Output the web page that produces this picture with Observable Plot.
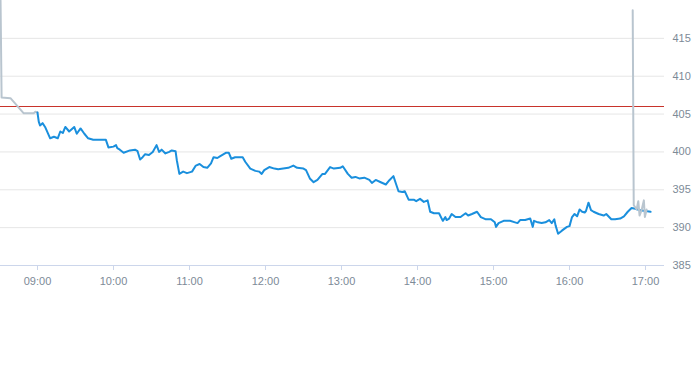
<!DOCTYPE html>
<html>
<head>
<meta charset="utf-8">
<script src="https://cdn.jsdelivr.net/npm/d3@7"></script>
<script src="https://cdn.jsdelivr.net/npm/@observablehq/plot@0.6"></script>
<style>
  html, body { margin: 0; padding: 0; background: #fff; }
  #chart svg { display: block; }
</style>
</head>
<body>
<div id="chart"></div>
<script>
// ---- data ----
const regularTimes = ["09:00","09:01","09:02","09:04","09:06","09:10","09:13","09:16","09:18","09:20","09:22","09:25","09:29","09:31","09:34","09:37","09:40","09:44","09:50","09:54","09:56",
"10:00","10:02","10:03","10:05","10:08","10:13","10:17","10:19","10:21","10:23","10:25","10:28","10:31","10:34","10:36","10:38","10:41","10:44","10:46","10:49","10:50","10:52","10:55","10:58",
"11:02","11:05","11:08","11:11","11:14","11:17","11:19","11:22","11:24","11:27","11:29","11:31","11:33","11:36","11:42","11:44","11:48","11:52","11:55","11:57","11:59",
"12:03","12:07","12:10","12:14","12:18","12:22","12:25","12:30","12:32","12:35","12:38","12:41","12:45","12:47","12:51","12:54","12:59",
"13:01","13:05","13:08","13:11","13:14","13:18","13:22","13:24","13:27","13:31","13:35","13:38","13:41","13:43","13:45","13:48","13:50","13:53","13:57","13:59",
"14:02","14:05","14:08","14:10","14:13","14:17","14:20","14:22","14:23","14:25","14:27","14:30","14:34","14:38","14:40","14:43","14:47","14:50","14:54","14:58",
"15:01","15:02","15:04","15:08","15:13","15:17","15:19","15:21","15:25","15:29","15:31","15:32","15:35","15:38","15:41","15:44","15:46","15:48","15:49","15:51","15:54","15:58",
"16:00","16:02","16:04","16:06","16:08","16:10","16:12","16:13","16:15","16:17","16:19","16:23","16:27","16:29","16:33","16:36","16:40","16:43","16:46","16:49","16:52","16:56",
"17:00","17:04"];
const regularPrices = [405.2,404.0,403.5,403.8,403.3,401.8,402.0,401.8,402.7,402.5,403.3,402.7,403.3,402.4,403.1,402.4,401.8,401.6,401.6,401.6,400.6,
400.7,400.9,400.5,400.3,399.9,400.2,400.3,400.1,399.0,399.3,399.7,399.6,400.0,400.9,400.0,400.3,399.8,400.0,400.2,400.1,398.9,397.1,397.4,397.2,
397.4,398.2,398.4,398.0,397.9,398.5,399.3,399.2,399.4,399.7,399.9,399.9,399.1,399.3,399.3,398.7,397.8,397.5,397.4,397.1,397.6,
398.0,397.8,397.7,397.8,397.9,398.2,397.9,397.8,397.6,396.5,396.0,396.3,397.1,397.1,398.0,397.8,397.9,
398.1,397.1,396.6,396.7,396.5,396.6,396.3,395.9,396.3,396.0,395.7,396.3,396.8,395.8,394.8,394.7,394.8,393.7,393.7,393.5,
393.8,393.4,393.6,392.1,391.9,391.9,390.9,391.4,391.0,391.2,391.8,391.4,391.4,391.9,391.6,391.8,392.1,391.4,391.1,391.1,
390.7,390.1,390.6,390.9,390.9,390.7,390.6,391.0,391.0,391.2,390.1,390.9,390.7,390.6,390.7,391.0,390.6,391.1,390.3,389.2,389.6,390.1,
390.2,391.4,391.8,391.5,392.4,392.1,392.0,392.2,393.3,392.3,392.1,391.8,391.6,391.8,391.1,391.1,391.2,391.5,392.1,392.6,392.5,392.3,
392.2,392.1];

const preTimes = ["08:30:50","08:31:40","08:38:40","08:49:10","08:57:00","08:58:20","09:00:00"];
const prePrices = [420.0,407.2,407.1,405.1,405.1,405.3,405.2];

const postTimes = ["16:49:54","16:50:42","16:53:00","16:54:18","16:55:18","16:56:54","16:58:42","16:59:30","17:00:54"];
const postPrices = [418.7,393.0,392.4,393.5,391.6,392.3,393.6,391.4,392.4];

const referencePrice = 406;
const yTicks = [385, 390, 395, 400, 405, 410, 415];
const xTickHours = ["09:00","10:00","11:00","12:00","13:00","14:00","15:00","16:00","17:00"];
const xStart = "08:30:48", xEnd = "17:15:00";

// ---- helpers ----
const toDate = s => { const [h, m, sec = 0] = s.split(":").map(Number); return new Date(Date.UTC(2024, 0, 2, h, m, sec)); };
const series = (times, prices) => times.map((t, i) => ({t: toDate(t), v: prices[i]}));
const regular = series(regularTimes, regularPrices);
const pre = series(preTimes, prePrices);
const post = series(postTimes, postPrices);

const labelColor = "#7d8a97";

const chart = Plot.plot({
  width: 693,
  height: 365,
  marginLeft: 0,
  marginRight: 29,
  marginTop: 0,
  marginBottom: 100,
  style: {fontFamily: "'Liberation Sans', Arial, sans-serif", fontSize: "11px", background: "#fff"},
  x: {type: "utc", domain: [toDate(xStart), toDate(xEnd)]},
  y: {domain: [385, 420]},
  marks: [
    Plot.ruleY(yTicks.slice(1), {stroke: "#e6e6e6", strokeWidth: 1}),
    Plot.ruleY([385], {stroke: "#ccd6eb", strokeWidth: 1}),
    Plot.axisY({anchor: "right", ticks: yTicks, tickSize: 0, tickPadding: 8, textAnchor: "start", fill: labelColor, label: null}),
    Plot.axisX({ticks: xTickHours.map(toDate), tickSize: 5, tickPadding: 7, stroke: "#ccd6eb", fill: labelColor, tickFormat: d3.utcFormat("%H:%M"), label: null}),
    Plot.ruleY([referencePrice], {stroke: "#c8332b", strokeWidth: 1}),
    Plot.line(pre, {x: "t", y: "v", stroke: "#b9c5cf", strokeWidth: 2}),
    Plot.line(regular, {x: "t", y: "v", stroke: "#1a8fdd", strokeWidth: 2, strokeLinejoin: "round"}),
    Plot.line(post, {x: "t", y: "v", stroke: "#b9c5cf", strokeWidth: 2})
  ]
});
document.getElementById("chart").appendChild(chart);
</script>
</body>
</html>
